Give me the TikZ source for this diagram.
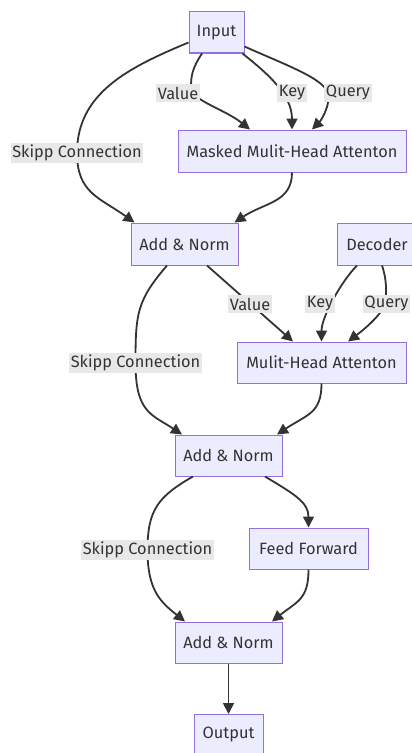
\documentclass[tikz,border=0pt]{standalone}
\usepackage{fontspec}
\setmainfont{Fira Sans}
\usetikzlibrary{arrows.meta,calc}
\definecolor{boxfill}{HTML}{ECECFF}
\definecolor{boxline}{HTML}{9370DB}
\definecolor{txt}{HTML}{333333}
\definecolor{lblbg}{HTML}{E8E8E8}
\tikzset{
  box/.style={draw=boxline, fill=boxfill, line width=1bp, text=txt, font=\fontsize{16.4}{18}\selectfont, minimum height=41bp, inner sep=0pt},
  lbl/.style={fill=lblbg, text=txt, font=\fontsize{16.4}{18}\selectfont, inner sep=1.5bp, minimum height=18bp},
  arr/.style={draw=txt, line width=1.8bp, -{Triangle[length=11bp,width=11bp]}},
}
\begin{document}
\begin{tikzpicture}[x=1bp,y=-1bp]
\useasboundingbox (0,0) rectangle (411,753);
\fill[white] (0,0) rectangle (411,753);
% nodes
\node[box, minimum width=55bp] (in) at (216.5,32.5) {Input};
\node[box, minimum width=228bp, minimum height=42bp] (mm) at (292,151) {Masked Mulit-Head Attenton};
\node[box, minimum width=107bp, minimum height=42bp] (an1) at (184.5,244) {Add \& Norm};
\node[box, minimum width=80bp, minimum height=42bp] (dec) at (377,244) {Decoder};
\node[box, minimum width=169bp] (mul) at (321.5,362.5) {Mulit-Head Attenton};
\node[box, minimum width=107bp] (an2) at (228.5,455.5) {Add \& Norm};
\node[box, minimum width=119bp] (ff) at (308.5,548.5) {Feed Forward};
\node[box, minimum width=107bp] (an3) at (228.5,642.5) {Add \& Norm};
\node[box, minimum width=69bp] (out) at (228.5,735) {Output};
% edges
\draw[arr] ($(in.west)+(0,10)$) .. controls +(-60,25) and +(0,-60) .. (77,153) .. controls +(0,40) and +(-35,-25) .. ($(an1.north)+(-50,0)$);
\draw[arr] ($(in.south)+(-14.5,0)$) .. controls +(-10,15) and +(0,-12) .. (191,88) .. controls +(0,12) and +(-25,-20) .. ($(mm.north)+(-42,0)$);
\draw[arr] ($(in.south)+(26,0)$) .. controls +(25,20) and +(0,-35) .. (mm.north);
\draw[arr] ($(in.east)+(0,14)$) .. controls +(40,18) and +(-5,-15) .. (328,93) .. controls +(3,10) and +(10,-10) .. ($(mm.north)+(20,0)$);
\draw[arr] (mm.south) .. controls +(0,30) and +(30,-20) .. ($(an1.north)+(50,0)$);
\draw[arr] ($(an1.south)+(22.5,0)$) -- ($(mul.north)+(-28.5,0)$);
\draw[arr] ($(dec.south)+(-20,0)$) .. controls +(-15,15) and +(0,-25) .. (mul.north);
\draw[arr] ($(dec.south)+(5,0)$) .. controls +(5,15) and +(0,-10) .. (386,300) .. controls +(0,10) and +(20,-15) .. ($(mul.north)+(26.5,0)$);
\draw[arr] ($(an1.south)+(-17.5,0)$) .. controls +(-30,35) and +(0,-50) .. (135.5,363) .. controls +(0,50) and +(-30,-20) .. ($(an2.north)+(-46.5,0)$);
\draw[arr] (mul.south) .. controls +(0,30) and +(30,-20) .. ($(an2.north)+(48.5,0)$);
\draw[arr] ($(an2.south)+(36.5,0)$) .. controls +(30,18) and +(0,-25) .. (ff.north);
\draw[arr] ($(an2.south)+(-35.5,0)$) .. controls +(-35,20) and +(0,-40) .. (147.5,550) .. controls +(0,40) and +(-25,-20) .. ($(an3.north)+(-43.5,0)$);
\draw[arr] (ff.south) .. controls +(0,30) and +(25,-20) .. ($(an3.north)+(43.5,0)$);
\draw[arr] (an3.south) -- (out.north);
% labels
\node[lbl] (l1) at (77,153) {Skipp Connection};
\node[lbl] (l2) at (178,93) {Value};
\node[lbl] (l3) at (292,93) {Key};
\node[lbl] (l4) at (348,93) {Query};
\node[lbl] (l5) at (250,304) {Value};
\node[lbl] (l6) at (320,304) {Key};
\node[lbl] (l7) at (386.5,304) {Query};
\node[lbl] (l8) at (135.5,363) {Skipp Connection};
\node[lbl] (l9) at (147.5,550) {Skipp Connection};
\end{tikzpicture}
\end{document}
